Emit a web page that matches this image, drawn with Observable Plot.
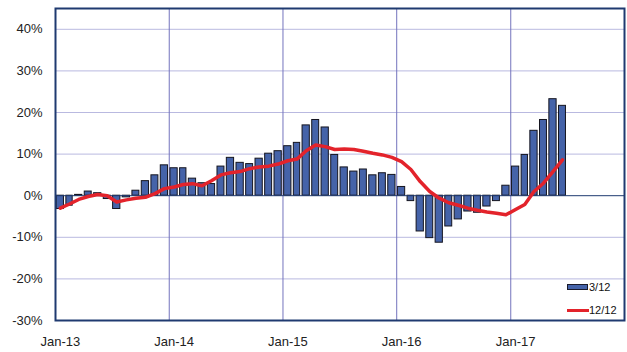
<!DOCTYPE html>
<html><head><meta charset="utf-8">
<script src="https://cdn.jsdelivr.net/npm/d3@7"></script>
<script src="https://cdn.jsdelivr.net/npm/@observablehq/plot@0.6"></script>
<style>
body{margin:0;background:#fff;}
#wrap{position:relative;width:627px;height:352px;overflow:hidden;}
.lg{position:absolute;font:11px "Liberation Sans",Arial,sans-serif;color:#111;display:flex;align-items:center;white-space:nowrap;}
.sw-bar{width:19px;height:4px;background:#4563a9;border:1px solid #1a1a2a;}
.sw-line{width:22px;height:3px;background:#e3232b;}
</style></head><body><div id="wrap"></div>
<script>
// 3/12 series (bars), monthly from Jan-13
const bars2013 = [-3.2, -2.4, 0.2, 1.0, 0.6, -0.8, -3.2, -0.4, 1.2, 3.5, 4.9, 7.3];
const bars2014 = [6.6, 6.6, 4.1, 3.0, 2.8, 7.0, 9.1, 7.9, 7.6, 8.9, 10.1, 10.7];
const bars2015 = [11.9, 12.7, 16.9, 18.2, 16.4, 9.8, 6.8, 5.8, 6.3, 4.9, 5.4, 5.0];
const bars2016 = [2.1, -1.3, -8.6, -10.2, -11.3, -7.4, -5.7, -3.8, -4.1, -2.6, -1.3, 2.4];
const bars2017 = [7.0, 9.8, 15.6, 18.2, 23.2, 21.6];
// 12/12 series (line)
const line2013 = [-3.0, -2.0, -0.9, -0.2, 0.3, 0.0, -1.5, -1.0, -0.6, -0.4, 0.5, 1.7];
const line2014 = [2.1, 2.7, 2.9, 2.4, 3.6, 5.0, 5.5, 5.8, 6.5, 6.9, 7.1, 7.6];
const line2015 = [8.4, 8.8, 10.8, 12.2, 11.8, 11.1, 11.2, 11.1, 10.7, 10.2, 9.8, 9.2];
const line2016 = [8.2, 6.3, 3.4, 1.0, -0.6, -1.7, -2.3, -3.0, -3.5, -3.9, -4.2, -4.6];
const line2017 = [-3.3, -2.1, 1.0, 3.0, 5.8, 8.6];

const yTicks = [-30, -20, -10, 0, 10, 20, 30, 40];
const xTickLabels = ["Jan-13", "Jan-14", "Jan-15", "Jan-16", "Jan-17"];
const seriesNames = ["3/12", "12/12"];

const barVals = [...bars2013, ...bars2014, ...bars2015, ...bars2016, ...bars2017];
const lineVals = [...line2013, ...line2014, ...line2015, ...line2016, ...line2017];
const start = new Date(Date.UTC(2013, 0, 1));
const data = barVals.map((v, i) => {
  const d0 = d3.utcMonth.offset(start, i);
  const d1 = d3.utcMonth.offset(start, i + 1);
  return {d0, d1, mid: new Date((+d0 + +d1) / 2), bar: v, line: lineVals[i]};
});
const janDates = xTickLabels.map((_, i) => new Date(Date.UTC(2013 + i, 0, 1)));
const janMids = xTickLabels.map((_, i) => new Date(Date.UTC(2013 + i, 0, 16, 12)));

const navy = "#1f3a70";
const chart = Plot.plot({
  width: 627, height: 352,
  marginLeft: 55, marginRight: 3, marginTop: 8, marginBottom: 32,
  style: {fontFamily: '"Liberation Sans", Arial, sans-serif', fontSize: "13px", color: "#222", background: "#fff"},
  x: {type: "utc", domain: [start, new Date(Date.UTC(2018, 0, 1))]},
  y: {domain: [-30, 45]},
  marks: [
    Plot.ruleY(yTicks.filter(t => t !== 0 && t !== -30), {stroke: "#b9b9e0", strokeWidth: 1}),
    Plot.ruleX(janDates.slice(1), {stroke: "#7373bd", strokeWidth: 1}),
    Plot.rectY(data, {x1: "d0", x2: "d1", y: "bar", fill: "#4563a9", stroke: "#15151f", strokeWidth: 1, insetLeft: 1.2, insetRight: 1.2}),
    Plot.ruleY([0], {stroke: navy, strokeWidth: 1}),
    Plot.line(data, {x: "mid", y: "line", stroke: "#e3232b", strokeWidth: 3.5, curve: "linear"}),
    Plot.frame({stroke: navy, strokeWidth: 2}),
    Plot.axisY({ticks: yTicks, tickFormat: d => d + "%", tickSize: 0, tickPadding: 13, fontSize: 13}),
    Plot.axisX({ticks: janMids, tickFormat: (d, i) => xTickLabels[i], tickSize: 0, tickPadding: 16, fontSize: 13})
  ]
});
const wrap = document.getElementById("wrap");
wrap.appendChild(chart);
const lg1 = document.createElement("div");
lg1.className = "lg"; lg1.style.left = "567px"; lg1.style.top = "281px";
lg1.innerHTML = '<span class="sw-bar"></span><span style="margin-left:1px">' + seriesNames[0] + '</span>';
const lg2 = document.createElement("div");
lg2.className = "lg"; lg2.style.left = "567px"; lg2.style.top = "304px";
lg2.innerHTML = '<span class="sw-line"></span><span>' + seriesNames[1] + '</span>';
wrap.appendChild(lg1); wrap.appendChild(lg2);
</script>
</body></html>
